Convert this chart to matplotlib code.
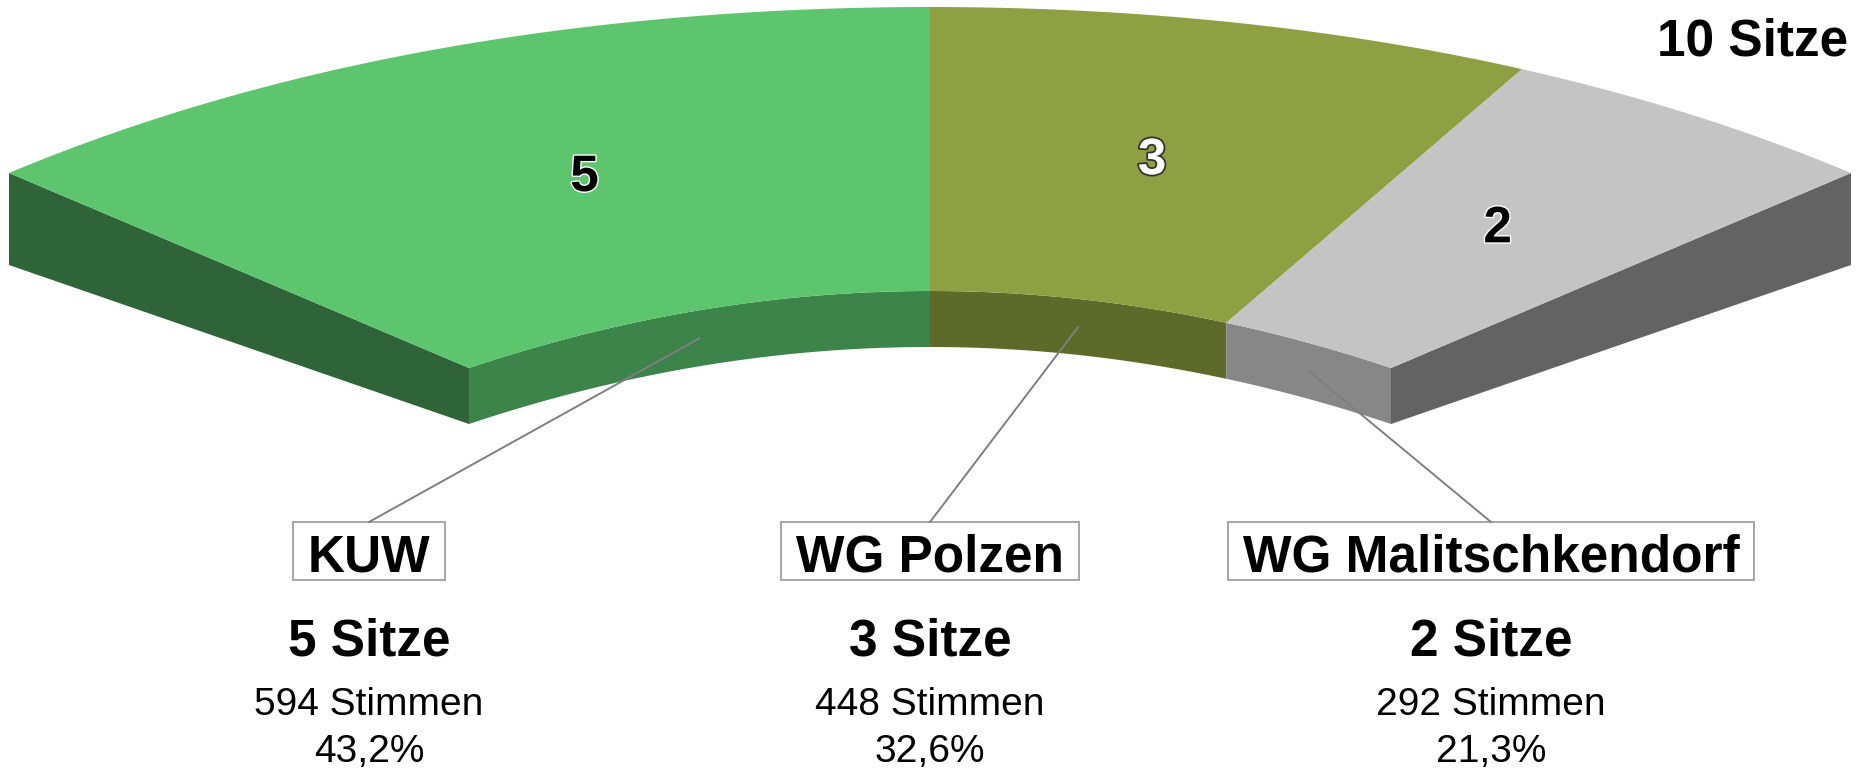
import numpy as np
import matplotlib.pyplot as plt
from matplotlib import patheffects as pe
from matplotlib.patches import Rectangle

# election result (10 seats)
parties = ["KUW", "WG Polzen", "WG Malitschkendorf"]
seats = [5, 3, 2]
votes = [594, 448, 292]
shares = ["43,2%", "32,6%", "21,3%"]

# colours: top face, inner wall, cut face, seat number
top_colors = ["#5dc56d", "#8ea041", "#c4c4c4"]
wall_colors = ["#3c8449", "#5e6a2a", "#878787"]
end_colors = ["#2f6438", "#4a5420", "#636363"]
num_colors = ["black", "white", "black"]

# pseudo-3d geometry of the half ring (in output pixels)
CX = 930
A_IN, A_OUT = 461, 921        # half widths of inner/outer arc
TOP_IN, TOP_OUT = 291, 7      # y of arc apex
SAG_IN, SAG_OUT = 77, 166     # drop from apex to arc ends
H_IN, H_OUT = 56, 92          # visible thickness
K = 1.64                      # angular foreshortening


def proj(u, t):
    a = A_IN + (A_OUT - A_IN) * t
    y0 = TOP_IN + (TOP_OUT - TOP_IN) * t
    sag = SAG_IN + (SAG_OUT - SAG_IN) * t
    # outer edge is flatter near the apex than a parabola
    shape = (1 - t) * u ** 2 + t * (0.84 * u ** 2 + 0.16 * u ** 4)
    return CX + a * u, y0 + sag * shape


def warp(theta_deg):
    th = np.radians(theta_deg)
    return np.cos(th) / np.sqrt(np.cos(th) ** 2 + (K * np.sin(th)) ** 2)


plt.rcParams["font.family"] = ["Liberation Sans", "DejaVu Sans"]

W, H = 1863, 769
fig = plt.figure(figsize=(W / 100, H / 100), dpi=100)
ax = fig.add_axes([0, 0, 1, 1])
ax.set_xlim(0, W)
ax.set_ylim(H, 0)
ax.axis("off")

total = sum(seats)
cum = np.concatenate([[0], np.cumsum(seats)])
ub = warp(180 - 180 * cum / total)
ub[0], ub[-1] = -1.0, 1.0

# cut faces at both ends
for u, col in [(-1.0, end_colors[0]), (1.0, end_colors[-1])]:
    xi, yi = proj(u, 0)
    xo, yo = proj(u, 1)
    ax.fill([xi, xo, xo, xi], [yi, yo, yo + H_OUT, yi + H_IN],
            color=col, lw=0)

for i in range(len(parties)):
    uu = np.linspace(ub[i], ub[i + 1], 120)
    # inner wall
    xi, yi = proj(uu, 0)
    ax.fill(np.r_[xi, xi[::-1]], np.r_[yi, (yi + H_IN)[::-1]],
            color=wall_colors[i], lw=0)
    # top face
    xo, yo = proj(uu, 1)
    ax.fill(np.r_[xo, xi[::-1]], np.r_[yo, yi[::-1]],
            color=top_colors[i], lw=0)

    # seat number on the slice
    um = (ub[i] + ub[i + 1]) / 2
    nx, ny = proj(um, 0.5)
    if num_colors[i] == "white":
        eff = [pe.withStroke(linewidth=2.5, foreground="#303030")]
    else:
        eff = [pe.withStroke(linewidth=2, foreground="white")]
    ax.text(nx, ny, str(seats[i]), fontsize=37, fontweight="bold",
            color=num_colors[i], ha="center", va="center",
            path_effects=eff)

ax.text(1848, 55, f"{total} Sitze", fontsize=37, fontweight="bold",
        ha="right", va="baseline")

# labels below the ring
col_x = CX + np.array([-1, 0, 1]) * 561
name_texts = []
for i, name in enumerate(parties):
    t = ax.text(col_x[i], 572, name, fontsize=37, fontweight="bold",
                ha="center", va="baseline")
    name_texts.append(t)
    ax.text(col_x[i], 655, f"{seats[i]} Sitze", fontsize=37,
            fontweight="bold", ha="center", va="baseline")
    ax.text(col_x[i], 715, f"{votes[i]} Stimmen", fontsize=28,
            ha="center", va="baseline")
    ax.text(col_x[i], 762, shares[i], fontsize=28,
            ha="center", va="baseline")

# frames around party names and leader lines
fig.canvas.draw()
inv = ax.transData.inverted()
for i, t in enumerate(name_texts):
    bb = t.get_window_extent()
    (x0, y0), (x1, y1) = inv.transform([[bb.x0, bb.y0], [bb.x1, bb.y1]])
    left, right = x0 - 15, x1 + 15
    top = 522
    ax.add_patch(Rectangle((left, top), right - left, 58, fill=False,
                           edgecolor="#a6a6a6", lw=1.4))
    um = (ub[i] + ub[i + 1]) / 2
    px, py = proj(um, 0)
    ax.plot([col_x[i], px], [top, py + H_IN / 2], color="#7f7f7f", lw=1.4)

fig.savefig("out.png", dpi=100)
